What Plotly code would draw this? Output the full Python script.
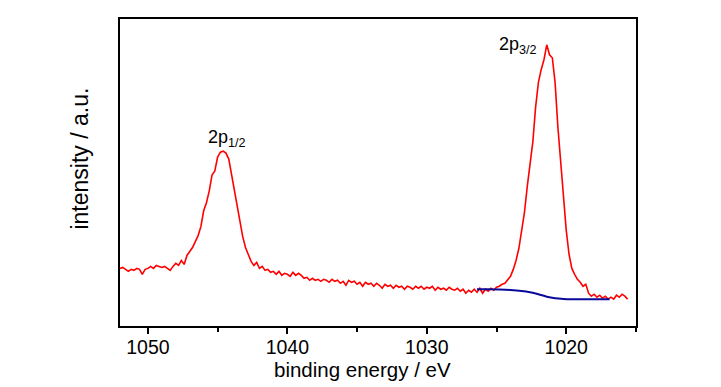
import plotly.graph_objects as go

energy = [round(1052.0 - 0.2 * i, 1) for i in range(183)]
intensity = [
    58, 59, 57, 55, 57, 56, 58, 57, 52, 57,
    58, 60, 58, 61, 60, 59, 60, 58, 56, 60,
    63, 61, 66, 62, 71, 75, 79, 85, 91, 100,
    116, 124, 136, 152, 156, 170, 175, 176, 174, 168,
    152, 134, 122, 106, 90, 79, 72, 65, 61, 64,
    58, 60, 56, 57, 54, 55, 52, 55, 51, 53,
    52, 50, 54, 51, 53, 51, 48, 49, 46, 48,
    46, 47, 45, 47, 46, 44, 47, 45, 46, 43,
    45, 41, 46, 44, 45, 42, 44, 40, 44, 42,
    43, 40, 43, 41, 38, 42, 40, 41, 38, 41,
    39, 40, 37, 40, 39, 37, 40, 38, 40, 37,
    39, 38, 40, 36, 39, 37, 38, 36, 39, 37,
    36, 38, 35, 37, 33, 36, 34, 37, 34, 38,
    33, 37, 35, 38, 36, 39, 40, 42, 43, 46,
    50, 57, 66, 78, 96, 114, 140, 160, 185, 220,
    245, 258, 268, 283, 273, 270, 245, 200, 163, 126,
    96, 72, 58, 52, 47, 44, 40, 42, 33, 30,
    32, 29, 31, 28, 30, 27, 29, 27, 31, 29,
    32, 30, 27,
]

# Shirley-type background under the 2p3/2 peak
bg_energy = [1026.4, 1025.6, 1024.8, 1024.0, 1023.2, 1022.6, 1022.0, 1021.4,
             1020.8, 1020.2, 1019.6, 1018.0, 1016.9]
bg_intensity = [37, 37, 36.8, 36.3, 35.3, 34, 32, 29.5, 28, 27.3, 27, 27, 27]

peak_labels = ["2p<sub>1/2</sub>", "2p<sub>3/2</sub>"]
peak_label_energy = [1044.35, 1023.45]
peak_label_intensity = [189, 282]

FONT = "Liberation Sans, Arial, sans-serif"

fig = go.Figure()
fig.add_trace(go.Scatter(x=energy, y=intensity, mode="lines",
                         line=dict(color="#ff0000", width=1.6), showlegend=False))
fig.add_trace(go.Scatter(x=bg_energy, y=bg_intensity, mode="lines",
                         line=dict(color="#0a0a9a", width=2), line_shape="spline",
                         showlegend=False))

for lab, xe, yi in zip(peak_labels, peak_label_energy, peak_label_intensity):
    fig.add_annotation(x=xe, y=yi, text=lab, showarrow=False, xanchor="center",
                       yanchor="middle", font=dict(size=18, color="black", family=FONT))

fig.add_annotation(xref="paper", yref="paper", x=-0.0766, y=0.547, text="intensity / a.u.",
                   textangle=-90, showarrow=False, xanchor="center", yanchor="middle",
                   font=dict(size=23, color="black", family=FONT))
fig.add_annotation(xref="paper", yref="paper", x=0.469, y=-0.143, text="binding energy / eV",
                   showarrow=False, xanchor="center", yanchor="middle",
                   font=dict(size=20.5, color="black", family=FONT))

fig.update_layout(
    width=721, height=387,
    margin=dict(l=112, r=93, t=9, b=69),
    paper_bgcolor="white", plot_bgcolor="white",
    font=dict(family=FONT, size=19.5, color="black"),
    xaxis=dict(range=[1052, 1015], tick0=1050, dtick=10, ticks="outside", ticklen=6,
               tickwidth=1.5, tickcolor="black", showline=True, linecolor="black",
               linewidth=1.5, mirror=True, showgrid=False, zeroline=False,
               ticklabelstandoff=-3,
               minor=dict(dtick=5, tick0=1045, ticks="outside", ticklen=4, tickwidth=1.5,
                          tickcolor="black", showgrid=False)),
    yaxis=dict(range=[0, 309], showticklabels=False, ticks="", showline=True,
               linecolor="black", linewidth=1.5, mirror=True, showgrid=False,
               zeroline=False),
)

fig.write_html("out.html")
